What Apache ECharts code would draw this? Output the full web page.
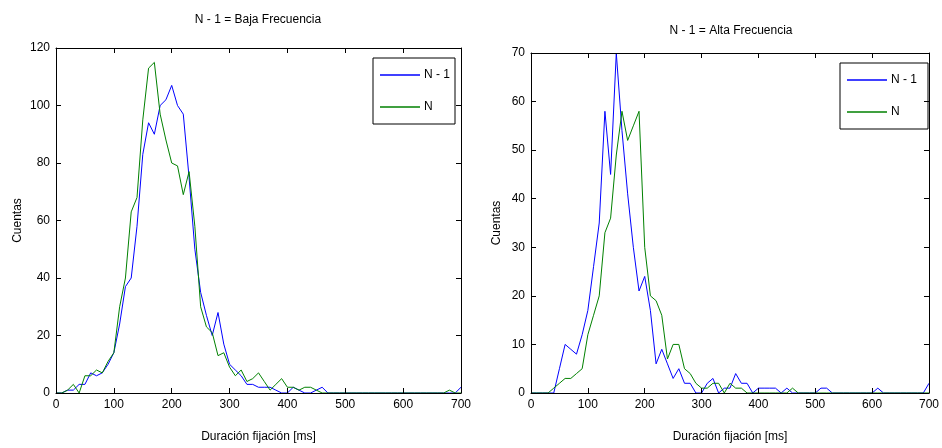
<!DOCTYPE html>
<html>
<head>
<meta charset="utf-8">
<script src="https://cdn.jsdelivr.net/npm/echarts@6/dist/echarts.min.js"></script>
<style>
html,body{margin:0;padding:0;background:#fff;}
#chart{width:942px;height:448px;}
</style>
</head>
<body>
<div id="chart"></div>
<script>
// Bin centres (ms)
const binsMs = [0,10,20,30,40,50,60,70,80,90,100,110,120,130,140,150,160,170,180,190,200,210,220,230,240,250,260,270,280,290,300,310,320,330,340,350,360,370,380,390,400,410,420,430,440,450,460,470,480,490,500,510,520,530,540,550,560,570,580,590,600,610,620,630,640,650,660,670,680,690,700];

// Left panel: N - 1 = Baja Frecuencia
const bajaPrev = [0,0,1,1,3,3,7,6,7,10, 14,24,37,40,58,83,94,90,100,102, 107,100,97,75,50,35,27,20,28,17, 10,8,6,3,3,2,2,2,1,0, 0,2,1,0,0,1,2,0,0,0, 0,0,0,0,0,0,0,0,0,0, 0,0,0,0,0,0,0,0,0,0, 2];
const bajaCurr = [0,0,1,3,0,6,6,8,7,11, 14,30,40,63,68,95,113,115,97,88, 80,79,69,77,58,30,23,21,13,14, 9,6,8,4,5,7,4,1,3,5, 2,2,1,2,2,1,0,0,0,0, 0,0,0,0,0,0,0,0,0,0, 0,0,0,0,0,0,0,0,1,0, 0];

// Right panel: N - 1 = Alta Frecuencia
const altaPrev = [0,0,0,0,0,5,10,9,8,12, 17,26,35,58,45,70,54,41,30,21, 24,17,6,9,6,3,5,2,2,0, 0,2,3,0,1,1,4,2,2,0, 1,1,1,1,0,1,0,0,0,0, 0,1,1,0,0,0,0,0,0,0, 0,1,0,0,0,0,0,0,0,0, 2];
const altaCurr = [0,0,0,0,1,2,3,3,4,5, 12,16,20,33,36,49,58,52,55,58, 30,20,19,16,7,10,10,5,4,2, 1,1,2,2,0,2,1,1,0,0, 0,0,0,0,0,0,1,0,0,0, 0,0,0,0,0,0,0,0,0,0, 0,0,0,0,0,0,0,0,0,0, 0];

const xTicks = [0,100,200,300,400,500,600,700];
const titles = ['N - 1 = Baja Frecuencia','N - 1 = Alta Frecuencia'];
const seriesNames = ['N - 1','N'];
const xName = 'Duración fijación [ms]';
const yName = 'Cuentas';

const FONT = "'Liberation Sans','Arial',sans-serif";
const FS = 12;
const BLUE = '#0000ff', GREEN = '#008000';

function pairs(xs, ys){ return xs.map((x,i)=>[x, ys[i]]); }

function xAx(gi, top, withName){
  return {
    gridIndex: gi, type: 'value', position: top ? 'top' : 'bottom',
    min: xTicks[0], max: xTicks[xTicks.length-1], interval: 100,
    axisLine: {show: true, onZero: false, lineStyle: {color: '#000', width: 1}},
    axisTick: {show: true, inside: true, length: 5, lineStyle: {color: '#000'}},
    axisLabel: {show: !top, color: '#000', fontFamily: FONT, fontSize: FS, margin: 6},
    splitLine: {show: false},
    name: withName ? xName : '', nameLocation: 'middle', nameGap: 38,
    nameTextStyle: {color: '#000', fontFamily: FONT, fontSize: FS},
    z: 5
  };
}
function yAx(gi, right, max, interval, withName, gap){
  return {
    gridIndex: gi, type: 'value', position: right ? 'right' : 'left',
    min: 0, max: max, interval: interval,
    axisLine: {show: true, onZero: false, lineStyle: {color: '#000', width: 1}},
    axisTick: {show: true, inside: true, length: 5, lineStyle: {color: '#000'}},
    axisLabel: {show: !right, color: '#000', fontFamily: FONT, fontSize: FS, margin: 6},
    splitLine: {show: false},
    name: withName ? yName : '', nameLocation: 'middle', nameGap: gap || 30,
    nameTextStyle: {color: '#000', fontFamily: FONT, fontSize: FS},
    z: 5
  };
}
function lineSeries(name, color, xi, yi, data){
  return {
    name: name, type: 'line', xAxisIndex: xi, yAxisIndex: yi,
    data: data, symbol: 'none', showSymbol: false, smooth: false,
    lineStyle: {color: color, width: 1}, itemStyle: {color: color},
    animation: false, z: 2
  };
}
function legendAt(left, top, padR){
  return {
    left: left, top: top, orient: 'vertical',
    data: seriesNames,
    icon: 'rect',
    itemWidth: 40, itemHeight: 1.5, itemGap: 18,
    padding: [10, padR, 10, 7],
    borderColor: '#000', borderWidth: 1, backgroundColor: '#fff',
    textStyle: {color: '#000', fontFamily: FONT, fontSize: 12, padding: [0,0,0,-1], height: 14, lineHeight: 14},
    selectedMode: false
  };
}

const chart = echarts.init(document.getElementById('chart'), null, {renderer: 'canvas'});
chart.setOption({
  backgroundColor: '#fff',
  animation: false,
  title: [
    {text: titles[0], left: 258, top: 14, textAlign: 'center', padding: 0,
     textStyle: {color: '#000', fontWeight: 'normal', fontFamily: FONT, fontSize: FS}},
    {text: titles[1], left: 731, top: 25, textAlign: 'center', padding: 0,
     textStyle: {color: '#000', fontWeight: 'normal', fontFamily: FONT, fontSize: FS}}
  ],
  grid: [
    {left: 56, top: 48, width: 405, height: 345, containLabel: false},
    {left: 531, top: 53, width: 401, height: 340, containLabel: false}
  ],
  legend: [legendAt(373, 58, 5), legendAt(840, 63, 11)],
  xAxis: [xAx(0,false,true), xAx(0,true,false), xAx(1,false,true), xAx(1,true,false)],
  yAxis: [yAx(0,false,120,20,true,32), yAx(0,true,120,20,false), yAx(1,false,70,10,true,28), yAx(1,true,70,10,false)],
  series: [
    lineSeries(seriesNames[0], BLUE, 0, 0, pairs(binsMs, bajaPrev)),
    lineSeries(seriesNames[1], GREEN, 0, 0, pairs(binsMs, bajaCurr)),
    lineSeries(seriesNames[0], BLUE, 2, 2, pairs(binsMs, altaPrev)),
    lineSeries(seriesNames[1], GREEN, 2, 2, pairs(binsMs, altaCurr))
  ]
});
</script>
</body>
</html>
